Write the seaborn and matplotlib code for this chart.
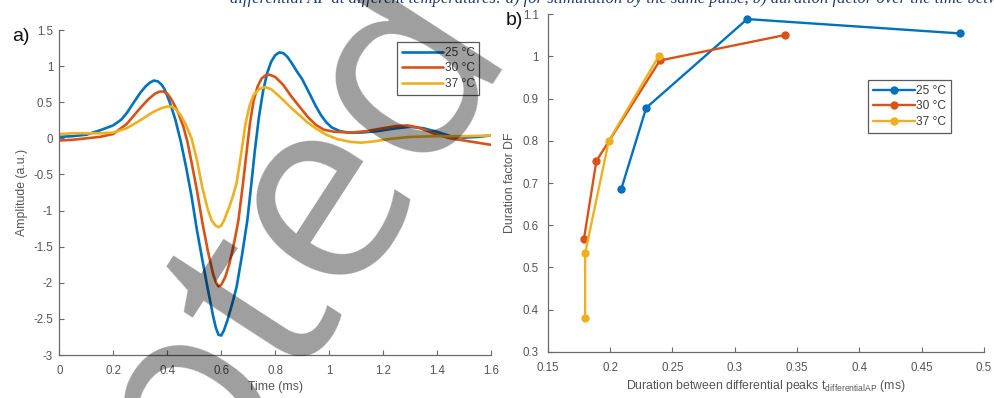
import matplotlib
matplotlib.use("Agg")
import matplotlib.pyplot as plt
from matplotlib.lines import Line2D
from matplotlib.ticker import FormatStrFormatter
import pandas as pd
import seaborn as sns

# ---- data -------------------------------------------------------------
temps = ["25 °C", "30 °C", "37 °C"]
colors = ["#0072BD", "#D95319", "#EDB120"]

# a) differential action potential waveforms
t_25 = [0.00, 0.05, 0.10, 0.15, 0.20, 0.23, 0.25, 0.28, 0.30, 0.32, 0.335, 0.35,
        0.365, 0.38, 0.39, 0.40, 0.41, 0.42, 0.43, 0.45, 0.47, 0.49, 0.51, 0.53,
        0.55, 0.57, 0.58, 0.59, 0.60, 0.61, 0.623, 0.64, 0.657, 0.677, 0.697, 0.712,
        0.725, 0.74, 0.755, 0.77, 0.785, 0.80, 0.815, 0.83, 0.845, 0.86, 0.88, 0.90,
        0.93, 0.95, 0.97, 0.99, 1.01, 1.04, 1.07, 1.12, 1.18, 1.25, 1.30, 1.35,
        1.40, 1.45, 1.50, 1.55, 1.60]
amp_25 = [0.02, 0.03, 0.05, 0.11, 0.18, 0.26, 0.35, 0.52, 0.63, 0.72, 0.77, 0.80,
          0.79, 0.74, 0.68, 0.59, 0.49, 0.38, 0.26, -0.04, -0.40, -0.80, -1.27, -1.68,
          -2.08, -2.46, -2.62, -2.72, -2.73, -2.66, -2.52, -2.30, -2.06, -1.62, -1.13, -0.62,
          -0.16, 0.30, 0.65, 0.90, 1.06, 1.15, 1.19, 1.18, 1.13, 1.05, 0.93, 0.82,
          0.60, 0.45, 0.32, 0.22, 0.15, 0.10, 0.08, 0.08, 0.10, 0.14, 0.16, 0.14,
          0.09, 0.03, 0.01, 0.02, 0.04]

t_30 = [0.00, 0.05, 0.10, 0.15, 0.20, 0.25, 0.30, 0.33, 0.355, 0.37, 0.385, 0.40,
        0.41, 0.42, 0.44, 0.46, 0.475, 0.49, 0.51, 0.53, 0.55, 0.57, 0.58, 0.59,
        0.60, 0.615, 0.63, 0.64, 0.652, 0.664, 0.68, 0.695, 0.707, 0.72, 0.735, 0.75,
        0.765, 0.78, 0.80, 0.83, 0.86, 0.89, 0.92, 0.95, 0.98, 1.02, 1.08, 1.14,
        1.20, 1.25, 1.29, 1.33, 1.40, 1.45, 1.50, 1.55, 1.60]
amp_30 = [-0.03, -0.02, 0.00, 0.02, 0.06, 0.20, 0.42, 0.54, 0.62, 0.645, 0.65, 0.62,
          0.57, 0.51, 0.36, 0.16, -0.05, -0.33, -0.72, -1.16, -1.55, -1.88, -1.99, -2.05,
          -2.03, -1.92, -1.74, -1.58, -1.37, -1.13, -0.65, -0.16, 0.22, 0.52, 0.72, 0.83,
          0.875, 0.88, 0.85, 0.74, 0.58, 0.44, 0.30, 0.19, 0.12, 0.09, 0.08, 0.10,
          0.14, 0.17, 0.18, 0.15, 0.05, 0.00, -0.03, -0.06, -0.09]

t_37 = [0.00, 0.05, 0.10, 0.15, 0.20, 0.25, 0.30, 0.35, 0.38, 0.40, 0.415, 0.43,
        0.45, 0.47, 0.49, 0.51, 0.53, 0.55, 0.565, 0.58, 0.59, 0.60, 0.61, 0.63,
        0.645, 0.657, 0.676, 0.69, 0.705, 0.72, 0.74, 0.762, 0.785, 0.81, 0.83, 0.86,
        0.89, 0.92, 0.95, 0.99, 1.03, 1.08, 1.12, 1.17, 1.22, 1.30, 1.40, 1.50, 1.60]
amp_37 = [0.06, 0.07, 0.07, 0.07, 0.08, 0.14, 0.25, 0.37, 0.42, 0.44, 0.44, 0.41,
          0.32, 0.18, 0.00, -0.30, -0.68, -0.98, -1.14, -1.21, -1.23, -1.21, -1.14, -0.95,
          -0.78, -0.62, -0.16, 0.20, 0.45, 0.60, 0.68, 0.71, 0.68, 0.60, 0.53, 0.42,
          0.32, 0.22, 0.14, 0.05, -0.01, -0.05, -0.06, -0.04, -0.01, 0.02, 0.03, 0.03, 0.04]

# b) duration factor versus time between differential peaks
dt_25 = [0.209, 0.229, 0.310, 0.481]
df_25 = [0.686, 0.878, 1.088, 1.054]
dt_30 = [0.179, 0.189, 0.240, 0.340]
df_30 = [0.567, 0.752, 0.990, 1.050]
dt_37 = [0.180, 0.180, 0.199, 0.239]
df_37 = [0.380, 0.534, 0.800, 1.000]

x_ticks_a = [0, 0.2, 0.4, 0.6, 0.8, 1, 1.2, 1.4, 1.6]
y_ticks_a = [-3, -2.5, -2, -1.5, -1, -0.5, 0, 0.5, 1, 1.5]
x_ticks_b = [0.15, 0.2, 0.25, 0.3, 0.35, 0.4, 0.45, 0.5]
y_ticks_b = [0.3, 0.4, 0.5, 0.6, 0.7, 0.8, 0.9, 1, 1.1]

caption = ("differential AP at different temperatures: a) for stimulation by the same pulse, "
           "b) duration factor over the time between the peaks")

# ---- tables -----------------------------------------------------------
def long_table(xs, ys, xname, yname):
    frames = []
    for lab, x, y in zip(temps, xs, ys):
        frames.append(pd.DataFrame({xname: x, yname: y, "T": lab}))
    return pd.concat(frames, ignore_index=True)

wave = long_table([t_25, t_30, t_37], [amp_25, amp_30, amp_37], "time", "amp")
dur = long_table([dt_25, dt_30, dt_37], [df_25, df_30, df_37], "dt", "df")

# ---- style ------------------------------------------------------------
sns.set_theme(style="ticks")
plt.rcParams["font.family"] = ["Liberation Sans", "DejaVu Sans"]
plt.rcParams["axes.unicode_minus"] = False

grey_txt = "#555555"
grey_ax = "#6a6a6a"
palette = dict(zip(temps, colors))

fig = plt.figure(figsize=(9.95, 3.98), dpi=100)
ax_a = fig.add_axes([0.0596, 0.108, 0.4339, 0.8166])
ax_b = fig.add_axes([0.5505, 0.1156, 0.4385, 0.8492])

sns.lineplot(data=wave, x="time", y="amp", hue="T", palette=palette, sort=False,
             estimator=None, linewidth=1.9, legend=False, ax=ax_a)
sns.lineplot(data=dur, x="dt", y="df", hue="T", palette=palette, sort=False,
             estimator=None, linewidth=1.7, marker="o", markersize=6,
             markeredgewidth=0, legend=False, ax=ax_b)
for ln in ax_a.lines:
    ln.set_solid_joinstyle("round")

for ax, ypad in ((ax_a, 4.5), (ax_b, 6.5)):
    sns.despine(ax=ax)
    for s in ("left", "bottom"):
        ax.spines[s].set_color(grey_ax)
        ax.spines[s].set_linewidth(0.9)
    ax.tick_params(direction="in", length=3.5, width=0.8, color=grey_ax,
                   labelcolor=grey_txt, labelsize=8.3)
    ax.tick_params(axis="x", pad=7.5)
    ax.tick_params(axis="y", pad=ypad)
    ax.xaxis.set_major_formatter(FormatStrFormatter("%g"))
    ax.yaxis.set_major_formatter(FormatStrFormatter("%g"))

ax_a.set_xlim(0, 1.6)
ax_a.set_ylim(-3, 1.5)
ax_a.set_xticks(x_ticks_a)
ax_a.set_yticks(y_ticks_a)
ax_a.set_xlabel("Time (ms)", fontsize=8.8, color=grey_txt, labelpad=2.5)
ax_a.set_ylabel("Amplitude (a.u.)", fontsize=8.8, color=grey_txt, labelpad=4)

ax_b.set_xlim(0.15, 0.5)
ax_b.set_ylim(0.3, 1.1)
ax_b.set_xticks(x_ticks_b)
ax_b.set_yticks(y_ticks_b)
ax_b.set_xlabel(r"Duration between differential peaks t$_{\mathregular{differentialAP}}$ (ms)",
                fontsize=8.8, color=grey_txt, labelpad=2.5)
ax_b.set_ylabel("Duration factor DF", fontsize=8.8, color=grey_txt, labelpad=5)

# legends in boxed style
leg_kw = dict(loc="upper left", borderaxespad=0, fontsize=8.6, handlelength=3.5,
              handletextpad=0.1, labelspacing=0.3, borderpad=0.4, frameon=True,
              fancybox=False)
h_a = [Line2D([], [], color=c, lw=1.9) for c in colors]
leg_a = ax_a.legend(h_a, temps, bbox_to_anchor=(0.782, 0.963), **leg_kw)
h_b = [Line2D([], [], color=c, lw=1.7, marker="o", markersize=6, markeredgewidth=0)
       for c in colors]
leg_b = ax_b.legend(h_b, temps, bbox_to_anchor=(0.734, 0.805), **leg_kw)
for leg in (leg_a, leg_b):
    fr = leg.get_frame()
    fr.set_edgecolor("#5a5a5a")
    fr.set_linewidth(0.9)
    fr.set_alpha(1)
    for txt in leg.get_texts():
        txt.set_color("#3a3a3a")

# panel letters
fig.text(12 / 995, 1 - 41 / 398, "a)", fontsize=14, color="#111111")
fig.text(506 / 995, 1 - 25 / 398, "b)", fontsize=14, color="#111111")

# caption line running off the top edge
fig.text(230 / 995, 1 - 3 / 398, caption, fontsize=12, color="#1f3b73",
         family="Liberation Serif", style="italic", va="baseline")

# diagonal stamp across the figure
fig.text(515 / 995, 1 - 50 / 398, "Accepted", fontsize=190, color="black",
         alpha=0.38, rotation=57, rotation_mode="anchor", ha="right",
         va="baseline", family=["Open Sans", "Liberation Sans"], weight="normal",
         zorder=10)

fig.savefig("out.png", dpi=100)
